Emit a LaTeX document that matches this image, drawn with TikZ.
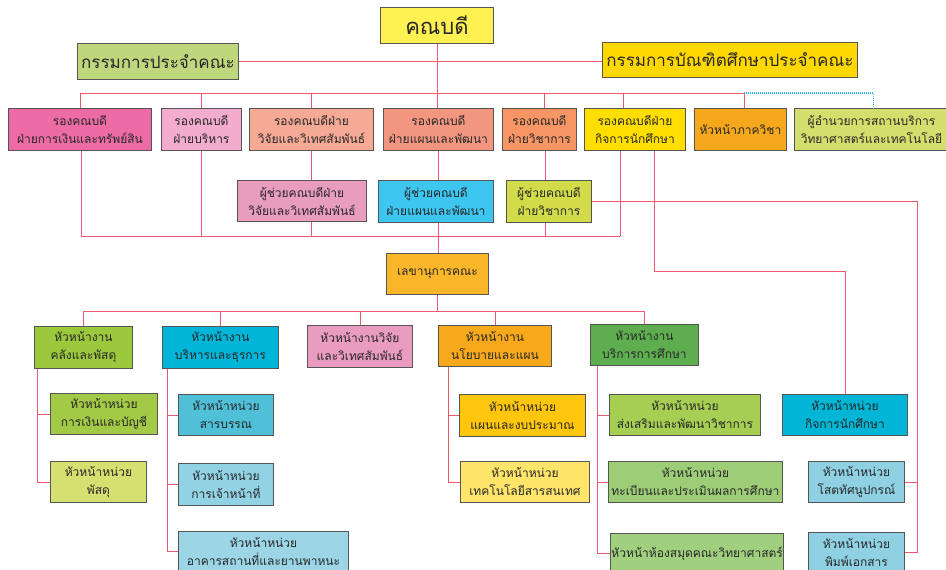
\documentclass[tikz,border=0pt]{standalone}
\usepackage{fontspec}
\newfontfamily\thaifont[Script=Thai]{Loma}
\usepackage{tikz}
\definecolor{linkred}{RGB}{240, 88, 112}
\definecolor{dotcyan}{RGB}{40, 185, 235}
\definecolor{boxgray}{RGB}{85, 85, 85}
\definecolor{textgray}{RGB}{40, 40, 40}
\definecolor{deanyel}{RGB}{255, 241, 82}
\definecolor{boardgrn}{RGB}{190, 215, 125}
\definecolor{gradgold}{RGB}{255, 216, 0}
\definecolor{vpfin}{RGB}{238, 108, 166}
\definecolor{vpadm}{RGB}{243, 172, 206}
\definecolor{vpres}{RGB}{246, 170, 150}
\definecolor{vpplan}{RGB}{243, 150, 128}
\definecolor{vpacad}{RGB}{247, 150, 100}
\definecolor{vpstu}{RGB}{255, 222, 0}
\definecolor{deptorg}{RGB}{245, 168, 28}
\definecolor{dirgrn}{RGB}{212, 222, 108}
\definecolor{asres}{RGB}{232, 156, 190}
\definecolor{asplan}{RGB}{60, 198, 240}
\definecolor{asacad}{RGB}{210, 220, 74}
\definecolor{secorg}{RGB}{251, 182, 42}
\definecolor{hfin}{RGB}{155, 200, 60}
\definecolor{hadm}{RGB}{0, 181, 216}
\definecolor{hres}{RGB}{234, 156, 192}
\definecolor{hplan}{RGB}{247, 168, 27}
\definecolor{hedu}{RGB}{94, 174, 80}
\definecolor{ufin}{RGB}{162, 202, 70}
\definecolor{usup}{RGB}{214, 224, 112}
\definecolor{udoc}{RGB}{80, 192, 216}
\definecolor{ustaff}{RGB}{145, 211, 229}
\definecolor{ubld}{RGB}{155, 213, 230}
\definecolor{uplan}{RGB}{255, 198, 12}
\definecolor{uit}{RGB}{255, 229, 106}
\definecolor{uacad}{RGB}{166, 206, 82}
\definecolor{ureg}{RGB}{158, 205, 120}
\definecolor{ulib}{RGB}{160, 207, 126}
\definecolor{ustu}{RGB}{0, 181, 214}
\definecolor{uav}{RGB}{143, 208, 227}

\begin{document}
\begin{tikzpicture}[x=1pt, y=-1pt,
  box/.style={draw=boxgray, line width=0.9pt, align=center, inner sep=1pt,
    anchor=north west, text=textgray,
    font=\thaifont\fontsize{12}{18}\selectfont},
  link/.style={draw=linkred, line width=0.8pt},
  dotlink/.style={draw=dotcyan, line width=1.2pt, dash pattern=on 1pt off 1pt}]
  \useasboundingbox (0,0) rectangle (946,570);
  \clip (0,0) rectangle (946,570);

  % Top level
  \node[box, fill=deanyel, minimum width=113pt, minimum height=36pt,
    font=\thaifont\fontsize{22}{24}\selectfont] (dean) at (380,7) {คณบดี};
  \node[box, fill=boardgrn, minimum width=161pt, minimum height=36pt,
    font=\thaifont\fontsize{17}{20}\selectfont] (board) at (77,43) {กรรมการประจำคณะ};
  \node[box, fill=gradgold, minimum width=255pt, minimum height=35pt,
    font=\thaifont\fontsize{17}{20}\selectfont] (gradboard) at (602,42) {กรรมการบัณฑิตศึกษาประจำคณะ};

  % Deputy deans
  \node[box, fill=vpfin, minimum width=143pt, minimum height=42pt] (vp1) at (8,108) {รองคณบดี\\ฝ่ายการเงินและทรัพย์สิน};
  \node[box, fill=vpadm, minimum width=80pt, minimum height=42pt] (vp2) at (161,108) {รองคณบดี\\ฝ่ายบริหาร};
  \node[box, fill=vpres, minimum width=124pt, minimum height=42pt] (vp3) at (249,108) {รองคณบดีฝ่าย\\วิจัยและวิเทศสัมพันธ์};
  \node[box, fill=vpplan, minimum width=110pt, minimum height=42pt] (vp4) at (383,108) {รองคณบดี\\ฝ่ายแผนและพัฒนา};
  \node[box, fill=vpacad, minimum width=74pt, minimum height=42pt] (vp5) at (502,108) {รองคณบดี\\ฝ่ายวิชาการ};
  \node[box, fill=vpstu, minimum width=101pt, minimum height=42pt] (vp6) at (584,108) {รองคณบดีฝ่าย\\กิจการนักศึกษา};
  \node[box, fill=deptorg, minimum width=92pt, minimum height=42pt] (dept) at (694,108) {หัวหน้าภาควิชา};
  \node[box, fill=dirgrn, minimum width=154pt, minimum height=42pt] (dir) at (794,108) {ผู้อำนวยการสถานบริการ\\วิทยาศาสตร์และเทคโนโลยี};

  % Assistant deans
  \node[box, fill=asres, minimum width=129pt, minimum height=41pt] (as1) at (237,180) {ผู้ช่วยคณบดีฝ่าย\\วิจัยและวิเทศสัมพันธ์};
  \node[box, fill=asplan, minimum width=115pt, minimum height=42pt] (as2) at (378,180) {ผู้ช่วยคณบดี\\ฝ่ายแผนและพัฒนา};
  \node[box, fill=asacad, minimum width=85pt, minimum height=42pt] (as3) at (506,180) {ผู้ช่วยคณบดี\\ฝ่ายวิชาการ};

  % Secretary
  \node[box, fill=secorg, minimum width=102pt, minimum height=41pt] (sec) at (386,253) {เลขานุการคณะ};

  % Heads of sections
  \node[box, fill=hfin, minimum width=98pt, minimum height=42pt] (h1) at (34,326) {หัวหน้างาน\\คลังและพัสดุ};
  \node[box, fill=hadm, minimum width=116pt, minimum height=42pt] (h2) at (162,326) {หัวหน้างาน\\บริหารและธุรการ};
  \node[box, fill=hres, minimum width=105pt, minimum height=42pt] (h3) at (307,325) {หัวหน้างานวิจัย\\และวิเทศสัมพันธ์};
  \node[box, fill=hplan, minimum width=113pt, minimum height=41pt] (h4) at (438,325) {หัวหน้างาน\\นโยบายและแผน};
  \node[box, fill=hedu, minimum width=108pt, minimum height=41pt] (h5) at (590,324) {หัวหน้างาน\\บริการการศึกษา};

  % Units
  \node[box, fill=ufin, minimum width=107pt, minimum height=41pt] (u11) at (50,393) {หัวหน้าหน่วย\\การเงินและบัญชี};
  \node[box, fill=usup, minimum width=96pt, minimum height=41pt] (u12) at (50,461) {หัวหน้าหน่วย\\พัสดุ};
  \node[box, fill=udoc, minimum width=95pt, minimum height=41pt] (u21) at (178,394) {หัวหน้าหน่วย\\สารบรรณ};
  \node[box, fill=ustaff, minimum width=95pt, minimum height=42pt] (u22) at (178,463) {หัวหน้าหน่วย\\การเจ้าหน้าที่};
  \node[box, fill=ubld, minimum width=170pt, minimum height=40pt] (u23) at (178,531) {หัวหน้าหน่วย\\อาคารสถานที่และยานพาหนะ};
  \node[box, fill=uplan, minimum width=126pt, minimum height=42pt] (u41) at (459,394) {หัวหน้าหน่วย\\แผนและงบประมาณ};
  \node[box, fill=uit, minimum width=129pt, minimum height=41pt] (u42) at (460,461) {หัวหน้าหน่วย\\เทคโนโลยีสารสนเทศ};
  \node[box, fill=uacad, minimum width=151pt, minimum height=41pt] (u51) at (609,394) {หัวหน้าหน่วย\\ส่งเสริมและพัฒนาวิชาการ};
  \node[box, fill=ureg, minimum width=174pt, minimum height=41pt] (u52) at (608,461) {หัวหน้าหน่วย\\ทะเบียนและประเมินผลการศึกษา};
  \node[box, fill=ulib, minimum width=173pt, minimum height=40pt] (u53) at (610,533) {หัวหน้าห้องสมุดคณะวิทยาศาสตร์};
  \node[box, fill=ustu, minimum width=125pt, minimum height=41pt] (s1) at (782,394) {หัวหน้าหน่วย\\กิจการนักศึกษา};
  \node[box, fill=uav, minimum width=96pt, minimum height=41pt] (s2) at (808,461) {หัวหน้าหน่วย\\โสตทัศนูปกรณ์};
  \node[box, fill=uav, minimum width=96pt, minimum height=40pt] (s3) at (808,532) {หัวหน้าหน่วย\\พิมพ์เอกสาร};

  % Bus points
  \coordinate (busA) at (80,93);
  \coordinate (busAR) at (744,93);
  \coordinate (busB) at (81,236);
  \coordinate (busBR) at (620,236);
  \coordinate (busC) at (311,311);
  \coordinate (dropA) at (545,0);
  \coordinate (kink) at (654,271);
  \coordinate (rail) at (917,0);
  \coordinate (sp1) at (37,0);
  \coordinate (sp2) at (167,0);
  \coordinate (sp4) at (448,0);
  \coordinate (sp5) at (597,0);

  % Top links
  \draw[link] (board.east) -- (board.east -| gradboard.west);
  \draw[link] (dean.south) -- (dean.south |- vp4.north);
  \draw[link] (busA) -- (busAR);
  \draw[link] (busA) -- (busA |- vp1.north);
  \draw[link] (vp2.north) -- (vp2.north |- busA);
  \draw[link] (vp3.north) -- (vp3.north |- busA);
  \draw[link] ([xshift=5pt]vp5.north) -- ([xshift=5pt]vp5.north |- busA);
  \draw[link] ([xshift=-11.5pt]vp6.north) -- ([xshift=-11.5pt]vp6.north |- busA);
  \draw[link] (busAR) -- (busAR |- dept.north);
  \draw[dotlink] (busAR) -| ([xshift=2pt]dir.north);

  % Middle links
  \draw[link] (busB) -- (busBR);
  \draw[link] (busB) -- (busB |- vp1.south);
  \draw[link] (vp2.south) -- (vp2.south |- busB);
  \draw[link] (vp3.south) -- (vp3.south |- as1.north);
  \draw[link] (vp3.south |- as1.south) -- (vp3.south |- busB);
  \draw[link] (vp4.south) -- (vp4.south |- as2.north);
  \draw[link] (vp4.south |- as2.south) -- (vp4.south |- sec.north);
  \draw[link] (dropA |- vp5.south) -- (dropA |- as3.north);
  \draw[link] (dropA |- as3.south) -- (dropA |- busB);
  \draw[link] (busBR) -- (busBR |- vp6.south);
  \draw[link] (kink |- vp6.south) -- (kink) -| (s1.north);
  \draw[link] (as3.east) -| (rail |- s3.east) -- (s3.east);
  \draw[link] (s2.east) -- (s2.east -| rail);

  % Section links
  \draw[link] (sec.south) -- (sec.south |- busC);
  \draw[link] (h1.north |- busC) -- (h5.north |- busC);
  \foreach \h in {h1,h2,h3,h4,h5}
    \draw[link] (\h.north) -- (\h.north |- busC);

  % Unit links
  \draw[link] (sp1 |- h1.south) |- (u12.west);
  \draw[link] (u11.west) -- (u11.west -| sp1);
  \draw[link] (sp2 |- h2.south) |- (u23.west);
  \draw[link] (u21.west) -- (u21.west -| sp2);
  \draw[link] (u22.west) -- (u22.west -| sp2);
  \draw[link] (sp4 |- h4.south) |- (u42.west);
  \draw[link] (u41.west) -- (u41.west -| sp4);
  \draw[link] (sp5 |- h5.south) |- (u53.west);
  \draw[link] (u51.west) -- (u51.west -| sp5);
  \draw[link] (u52.west) -- (u52.west -| sp5);
\end{tikzpicture}
\end{document}
